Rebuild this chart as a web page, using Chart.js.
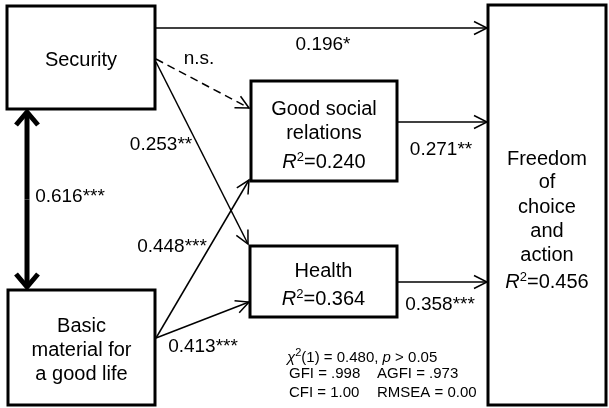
<!DOCTYPE html>
<html><head><meta charset="utf-8">
<script src="https://cdn.jsdelivr.net/npm/chart.js@4"></script>
<style>html,body{margin:0;padding:0;background:#fff;overflow:hidden}</style>
</head><body>
<canvas id="c" width="609" height="408"></canvas>
<script>
// ---- data ----
const nodeLines = [["Security"], ["Good social", "relations"], ["Health"], ["Basic", "material for", "a good life"], ["Freedom", "of", "choice", "and", "action"]];
const rSquared = [null, "0.240", "0.364", null, "0.456"];
const pathFrom = [0, 0, 0, 3, 3, 1, 2];
const pathTo = [4, 1, 2, 1, 2, 4, 4];
const pathCoef = ["0.196*", "n.s.", "0.253**", "0.448***", "0.413***", "0.271**", "0.358***"];
const pathSignificant = [true, false, true, true, true, true, true];
const corrPair = [0, 3];
const corrCoef = "0.616***";
const fitStats = { chi2df: "1", chi2: "0.480", p: "> 0.05", GFI: ".998", AGFI: ".973", CFI: "1.00", RMSEA: "0.00" };

// ---- layout (diagram coordinates, in scale units) ----
const layout = {
  boxes: [[7, 6, 155, 109], [251, 81, 397, 181], [250, 246, 397, 317], [8, 290, 155, 405], [488, 5, 606, 405]],
  textBase: [[66], [115, 139], [277], [332, 356, 380], [165, 188, 213, 237, 261]],
  r2Base: [null, 168, 305, null, 288],
  pathStart: [[155, 28], [156, 59], [156, 62], [156, 338], [156, 338], [398, 122], [398, 282]],
  pathEnd: [[487, 28], [249, 108], [248, 244], [249, 180], [249, 302], [487, 122], [487, 282]],
  coefPos: [[323, 50], [199, 64], [161, 150], [172, 252], [203, 352], [441, 155], [440, 310]],
  corrX: 27, corrY: [112, 287], corrLabel: [70, 202],
  fitX: 289, fitX2: 377, fitBase: [362, 378, 397]
};

const FONT = '"Liberation Sans", Arial, Helvetica, sans-serif';

function arrow(ctx, x1, y1, x2, y2, o) {
  ctx.save();
  ctx.strokeStyle = '#000';
  ctx.lineWidth = o.w;
  ctx.lineCap = 'butt';
  if (o.dash) ctx.setLineDash(o.dash);
  ctx.beginPath(); ctx.moveTo(x1, y1); ctx.lineTo(x2, y2); ctx.stroke();
  ctx.setLineDash([]);
  const a = Math.atan2(y2 - y1, x2 - x1);
  const dx = Math.cos(a), dy = Math.sin(a);
  const bx = x2 - dx * o.hl, by = y2 - dy * o.hl;
  ctx.lineJoin = 'miter';
  ctx.lineWidth = o.hw2 || o.w;
  ctx.beginPath();
  ctx.moveTo(bx - dy * o.hw, by + dx * o.hw);
  ctx.lineTo(x2, y2);
  ctx.lineTo(bx + dy * o.hw, by - dx * o.hw);
  ctx.stroke();
  ctx.restore();
}

function r2Text(ctx, cx, base, val) {
  const f1 = 'italic 20px ' + FONT, f2 = '13px ' + FONT, f3 = '20px ' + FONT;
  ctx.font = f1; const w1 = ctx.measureText('R').width;
  ctx.font = f2; const w2 = ctx.measureText('2').width;
  ctx.font = f3; const w3 = ctx.measureText('=' + val).width;
  let x = cx - (w1 + w2 + w3) / 2;
  ctx.textAlign = 'left';
  ctx.font = f1; ctx.fillText('R', x, base); x += w1;
  ctx.font = f2; ctx.fillText('2', x, base - 7); x += w2;
  ctx.font = f3; ctx.fillText('=' + val, x, base);
}

const diagramPlugin = {
  id: 'diagram',
  afterDraw(chart) {
    const ctx = chart.ctx, sx = chart.scales.x, sy = chart.scales.y;
    const X = v => sx.getPixelForValue(v), Y = v => sy.getPixelForValue(v);
    ctx.save();
    ctx.fillStyle = '#000';
    ctx.textBaseline = 'alphabetic';
    // boxes
    layout.boxes.forEach((b, i) => {
      ctx.lineWidth = 3; ctx.strokeStyle = '#000';
      ctx.strokeRect(X(b[0]), Y(b[1]), X(b[2]) - X(b[0]), Y(b[3]) - Y(b[1]));
      const cx = X((b[0] + b[2]) / 2);
      ctx.font = '20px ' + FONT; ctx.textAlign = 'center';
      nodeLines[i].forEach((t, k) => ctx.fillText(t, cx, Y(layout.textBase[i][k])));
      if (rSquared[i]) r2Text(ctx, cx, Y(layout.r2Base[i]), rSquared[i]);
    });
    // paths
    pathFrom.forEach((f, i) => {
      const s = layout.pathStart[i], e = layout.pathEnd[i];
      arrow(ctx, X(s[0]), Y(s[1]), X(e[0]), Y(e[1]), { w: 1.5, hl: 13, hw: 6.5, dash: pathSignificant[i] ? null : [8, 5] });
      ctx.font = '19px ' + FONT; ctx.textAlign = 'center';
      ctx.fillText(pathCoef[i], X(layout.coefPos[i][0]), Y(layout.coefPos[i][1]));
    });
    // correlation double arrow
    const cx = X(layout.corrX), ya = Y(layout.corrY[0]), yb = Y(layout.corrY[1]);
    arrow(ctx, cx, (ya + yb) / 2, cx, ya, { w: 5, hl: 13, hw: 11 });
    arrow(ctx, cx, (ya + yb) / 2, cx, yb, { w: 5, hl: 13, hw: 11 });
    ctx.font = '19px ' + FONT; ctx.textAlign = 'center';
    ctx.fillText(corrCoef, X(layout.corrLabel[0]), Y(layout.corrLabel[1]));
    // fit statistics
    ctx.textAlign = 'left';
    let x = X(layout.fitX) - 2; const b0 = Y(layout.fitBase[0]);
    const seg = [['italic 15px ', 'χ', 0], ['11px ', '2', -6], ['15px ', '(' + fitStats.chi2df + ') = ' + fitStats.chi2 + ', ', 0], ['italic 15px ', 'p', 0], ['15px ', ' ' + fitStats.p, 0]];
    seg.forEach(s => { ctx.font = s[0] + FONT; ctx.fillText(s[1], x, b0 + s[2]); x += ctx.measureText(s[1]).width; });
    ctx.font = '15px ' + FONT;
    ctx.fillText('GFI = ' + fitStats.GFI, X(layout.fitX), Y(layout.fitBase[1]));
    ctx.fillText('AGFI = ' + fitStats.AGFI, X(layout.fitX2), Y(layout.fitBase[1]));
    ctx.fillText('CFI = ' + fitStats.CFI, X(layout.fitX), Y(layout.fitBase[2]));
    ctx.fillText('RMSEA = ' + fitStats.RMSEA, X(layout.fitX2), Y(layout.fitBase[2]));
    ctx.restore();
  }
};

new Chart(document.getElementById('c'), {
  type: 'scatter',
  data: { datasets: [{ data: layout.boxes.map(b => ({ x: (b[0] + b[2]) / 2, y: (b[1] + b[3]) / 2 })), pointRadius: 0 }] },
  options: {
    responsive: false, animation: false,
    layout: { padding: 0 },
    plugins: { legend: { display: false }, tooltip: { enabled: false } },
    scales: {
      x: { type: 'linear', min: 0, max: 609, display: false },
      y: { type: 'linear', min: 0, max: 408, reverse: true, display: false }
    }
  },
  plugins: [diagramPlugin]
});
</script>
</body></html>
